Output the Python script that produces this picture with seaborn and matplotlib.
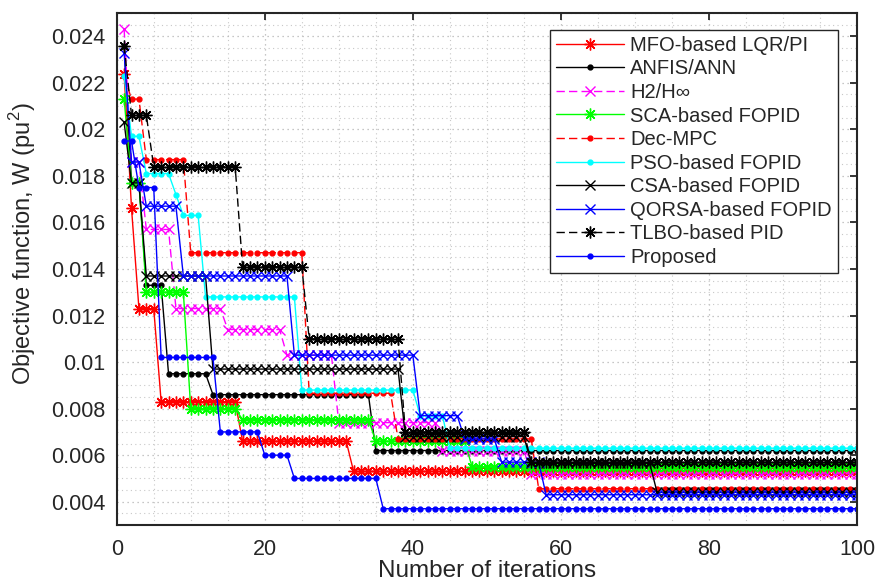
import numpy as np
import pandas as pd
import matplotlib
matplotlib.use("Agg")
import matplotlib.pyplot as plt
import seaborn as sns
from matplotlib.ticker import MultipleLocator, FuncFormatter

# ---------------- data (piecewise-constant convergence curves) ----------------
n_iter = 100
labels = ["MFO-based LQR/PI", "ANFIS/ANN", "H2/H\u221e", "SCA-based FOPID", "Dec-MPC",
          "PSO-based FOPID", "CSA-based FOPID", "QORSA-based FOPID", "TLBO-based PID", "Proposed"]

mfo_starts = [1, 2, 3, 6, 17, 32]
mfo_vals = [0.0224, 0.0166, 0.0123, 0.0083, 0.0066, 0.0053]
anfis_starts = [1, 2, 4, 7, 13, 35]
anfis_vals = [0.0236, 0.0177, 0.0133, 0.0095, 0.0086, 0.0062]
h2_starts = [1, 2, 4, 8, 15, 23, 30, 44, 56]
h2_vals = [0.0243, 0.0186, 0.0157, 0.0123, 0.0114, 0.0103, 0.0074, 0.0062, 0.0052]
sca_starts = [1, 2, 4, 10, 17, 35, 48]
sca_vals = [0.0213, 0.0177, 0.0130, 0.0080, 0.00753, 0.0066, 0.0055]
dec_starts = [1, 2, 4, 10, 26, 38, 57]
dec_vals = [0.0223, 0.0213, 0.0187, 0.0147, 0.00866, 0.0067, 0.00456]
pso_starts = [1, 2, 4, 8, 9, 12, 25, 41, 45]
pso_vals = [0.0223, 0.0197, 0.0181, 0.0172, 0.0163, 0.0128, 0.0088, 0.0077, 0.0063]
csa_starts = [1, 2, 4, 13, 39, 56, 73]
csa_vals = [0.0203, 0.0177, 0.0137, 0.0097, 0.0068, 0.00565, 0.0044]
qorsa_starts = [1, 2, 4, 9, 24, 41, 47, 52, 58]
qorsa_vals = [0.0233, 0.0186, 0.0167, 0.0137, 0.0103, 0.0077, 0.0067, 0.0057, 0.0043]
tlbo_starts = [1, 2, 5, 17, 26, 39, 56]
tlbo_vals = [0.0236, 0.0206, 0.0184, 0.0141, 0.0110, 0.0070, 0.0057]
prop_starts = [1, 3, 6, 14, 20, 24, 36]
prop_vals = [0.0195, 0.0175, 0.0102, 0.0070, 0.0060, 0.0050, 0.0037]

x_ticks = [0, 20, 40, 60, 80, 100]
y_ticks = [0.004, 0.006, 0.008, 0.01, 0.012, 0.014, 0.016, 0.018, 0.02, 0.022, 0.024]

runs = [(mfo_starts, mfo_vals), (anfis_starts, anfis_vals), (h2_starts, h2_vals),
        (sca_starts, sca_vals), (dec_starts, dec_vals), (pso_starts, pso_vals),
        (csa_starts, csa_vals), (qorsa_starts, qorsa_vals), (tlbo_starts, tlbo_vals),
        (prop_starts, prop_vals)]

def expand(starts, vals):
    lengths = np.diff(np.array(starts + [n_iter + 1]))
    return np.repeat(vals, lengths)

iters = np.arange(1, n_iter + 1)
frames = []
for lab, (s, v) in zip(labels, runs):
    frames.append(pd.DataFrame({"iter": iters, "W": expand(s, v), "method": lab}))
df = pd.concat(frames, ignore_index=True)

# ---------------- styling ----------------
ast = (8, 2, 0)  # MATLAB-like asterisk
dash = (0, (6, 3))
styles = {
    "MFO-based LQR/PI": dict(color="#ff0000", ls="-", marker=ast, ms=8.5),
    "ANFIS/ANN": dict(color="#000000", ls="-", marker=".", ms=7),
    "H2/H\u221e": dict(color="#ff00ff", ls=dash, marker="x", ms=6.5),
    "SCA-based FOPID": dict(color="#00ff00", ls="-", marker=ast, ms=8.5),
    "Dec-MPC": dict(color="#ff0000", ls=dash, marker=".", ms=7),
    "PSO-based FOPID": dict(color="#00ffff", ls="-", marker=".", ms=7),
    "CSA-based FOPID": dict(color="#000000", ls="-", marker="x", ms=6.5),
    "QORSA-based FOPID": dict(color="#0000ff", ls="-", marker="x", ms=6.5),
    "TLBO-based PID": dict(color="#000000", ls=dash, marker=ast, ms=8.5),
    "Proposed": dict(color="#0000ff", ls="-", marker=".", ms=7),
}

sns.set_style("white")
plt.rcParams["font.family"] = ["Liberation Sans", "DejaVu Sans"]
plt.rcParams["mathtext.fontset"] = "custom"
plt.rcParams["mathtext.rm"] = "Liberation Sans"

fig = plt.figure(figsize=(8.75, 5.86), dpi=100)
ax = fig.add_axes([0.1334, 0.1041, 0.8460, 0.8737])

for lab in labels:
    st = styles[lab]
    sub = df[df["method"] == lab]
    sns.lineplot(data=sub, x="iter", y="W", ax=ax, color=st["color"], label=lab,
                 estimator=None, sort=False, linewidth=1.0,
                 marker=st["marker"], markersize=st["ms"], markeredgewidth=1.0,
                 markeredgecolor=st["color"], markerfacecolor=st["color"],
                 linestyle=st["ls"])

ax.set_xlim(0, 100)
ax.set_ylim(0.003, 0.025)
ax.set_xticks(x_ticks)
ax.set_yticks(y_ticks)
ax.yaxis.set_major_formatter(FuncFormatter(lambda v, p: f"{v:g}"))
ax.xaxis.set_minor_locator(MultipleLocator(5))
ax.yaxis.set_minor_locator(MultipleLocator(0.0005))

ax.grid(True, which="major", color="#b4b4b4", linestyle=(0, (1, 3)), linewidth=0.9)
ax.grid(True, which="minor", color="#c8c8c8", linestyle=(0, (1, 3)), linewidth=0.8)
ax.set_axisbelow(True)

text_col = "#262626"
ax.tick_params(axis="both", which="major", direction="in", length=5, width=1.3,
               top=True, right=True, labelsize=15.5, colors=text_col)
ax.tick_params(axis="y", which="major", pad=8)
ax.tick_params(axis="x", which="major", pad=10)
ax.tick_params(axis="both", which="minor", length=0, top=True, right=True)
for sp in ax.spines.values():
    sp.set_linewidth(1.5)
    sp.set_color(text_col)

ax.set_xlabel("Number of iterations", fontsize=17.5, color=text_col, labelpad=0)
ax.set_ylabel("Objective function, W (pu$^2$)", fontsize=17, color=text_col)
ax.yaxis.set_label_coords(-0.106, 0.549)

leg = ax.legend(loc="upper right", bbox_to_anchor=(0.974, 0.967), borderaxespad=0,
                fontsize=14.5, frameon=True, fancybox=False, edgecolor="#262626",
                framealpha=1, numpoints=1, handlelength=3.4, labelspacing=0.225,
                handletextpad=0.3, borderpad=0.3)
leg.get_frame().set_linewidth(1.0)

fig.savefig("out.png", dpi=100)
